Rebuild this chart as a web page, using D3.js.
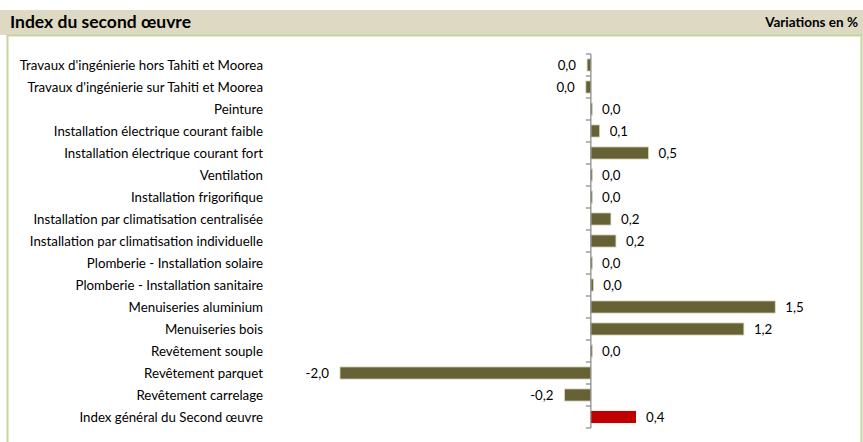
<!DOCTYPE html>
<html>
<head>
<meta charset="utf-8">
<script src="https://cdn.jsdelivr.net/npm/d3@7"></script>
<style>
  body { margin: 0; background: #fff; }
  svg { display: block; font-family: Lato, "Liberation Sans", sans-serif; }
</style>
</head>
<body>
<svg id="chart"></svg>
<script>
  var categories = [
    "Travaux d'ingénierie hors Tahiti et Moorea",
    "Travaux d'ingénierie sur Tahiti et Moorea",
    "Peinture",
    "Installation électrique courant faible",
    "Installation électrique courant fort",
    "Ventilation",
    "Installation frigorifique",
    "Installation par climatisation centralisée",
    "Installation par climatisation individuelle",
    "Plomberie - Installation solaire",
    "Plomberie - Installation sanitaire",
    "Menuiseries aluminium",
    "Menuiseries bois",
    "Revêtement souple",
    "Revêtement parquet",
    "Revêtement carrelage",
    "Index général du Second œuvre"
  ]
  var values = [-0.03, -0.04, 0.01, 0.07, 0.46, 0.01, 0.01, 0.16, 0.2, 0.01, 0.02, 1.47, 1.22, 0.01, -2.0, -0.21, 0.36]
  var highlight = "Index général du Second œuvre"

  var width = 863, height = 442
  var svg = d3.select('#chart').attr('width', width).attr('height', height)

  // header band and frame
  svg.append('rect').attr('x', 0).attr('y', 10).attr('width', width).attr('height', 25).attr('fill', '#DDD9C3')
  svg.append('rect').attr('x', 7.5).attr('y', 35.5).attr('width', 854).attr('height', 420)
    .attr('fill', 'none').attr('stroke', '#C3D69B').attr('stroke-width', 2)

  svg.append('text').attr('x', 10).attr('y', 28)
    .attr('font-size', 17.5).attr('font-weight', 'bold').attr('fill', '#000')
    .text('Index du second œuvre')
  svg.append('text').attr('x', 858).attr('y', 27).attr('text-anchor', 'end')
    .attr('font-size', 13.5).attr('font-weight', 'bold').attr('fill', '#000')
    .text('Variations en %')

  var x = d3.scaleLinear().domain([-2.0, 1.5]).range([340, 779])
  var y = d3.scaleBand().domain(categories).range([54, 428]).paddingInner(0.45).paddingOuter(0.225)

  var rows = categories.map(function (c, i) { return { name: c, value: values[i] } })

  svg.append('g')
    .selectAll('rect')
    .data(rows)
    .enter().append('rect')
    .attr('x', function (d) { return Math.min(x(d.value), x(0)) })
    .attr('y', function (d) { return y(d.name) })
    .attr('width', function (d) { return Math.max(1.5, Math.abs(x(d.value) - x(0))) })
    .attr('height', y.bandwidth())
    .attr('fill', function (d) { return d.name === highlight ? '#C00000' : '#676235' })
    .attr('stroke', function (d) { return d.name === highlight ? 'none' : '#D9D7BF' })
    .attr('stroke-width', 0.8)

  // category axis at zero
  var axisX = x(0)
  var axis = svg.append('g')
  axis.append('line').attr('x1', axisX).attr('x2', axisX).attr('y1', 54).attr('y2', 428)
    .attr('stroke', '#868686').attr('stroke-width', 1.2)
  d3.range(categories.length + 1).forEach(function (i) {
    var ty = 54 + i * y.step()
    axis.append('line').attr('x1', axisX - 5).attr('x2', axisX).attr('y1', ty).attr('y2', ty)
      .attr('stroke', '#868686').attr('stroke-width', 1.2)
  })

  // category labels
  svg.append('g')
    .selectAll('text')
    .data(rows)
    .enter().append('text')
    .attr('x', 263)
    .attr('y', function (d) { return y(d.name) + y.bandwidth() / 2 + 4.5 })
    .attr('text-anchor', 'end')
    .attr('font-size', 13.3)
    .attr('fill', '#000')
    .text(function (d) { return d.name })

  // value labels
  var fmt = function (v) { return d3.format('.1f')(v).replace('.', ',').replace('−', '-') }
  svg.append('g')
    .selectAll('text')
    .data(rows)
    .enter().append('text')
    .attr('x', function (d) { return d.value < 0 ? x(d.value) - 11 : x(d.value) + 10 })
    .attr('y', function (d) { return y(d.name) + y.bandwidth() / 2 + 4.5 })
    .attr('text-anchor', function (d) { return d.value < 0 ? 'end' : 'start' })
    .attr('font-size', 13.3)
    .attr('fill', '#000')
    .text(function (d) { return fmt(Math.abs(d.value) < 0.05 ? Math.abs(d.value) : d.value) })
</script>
</body>
</html>
